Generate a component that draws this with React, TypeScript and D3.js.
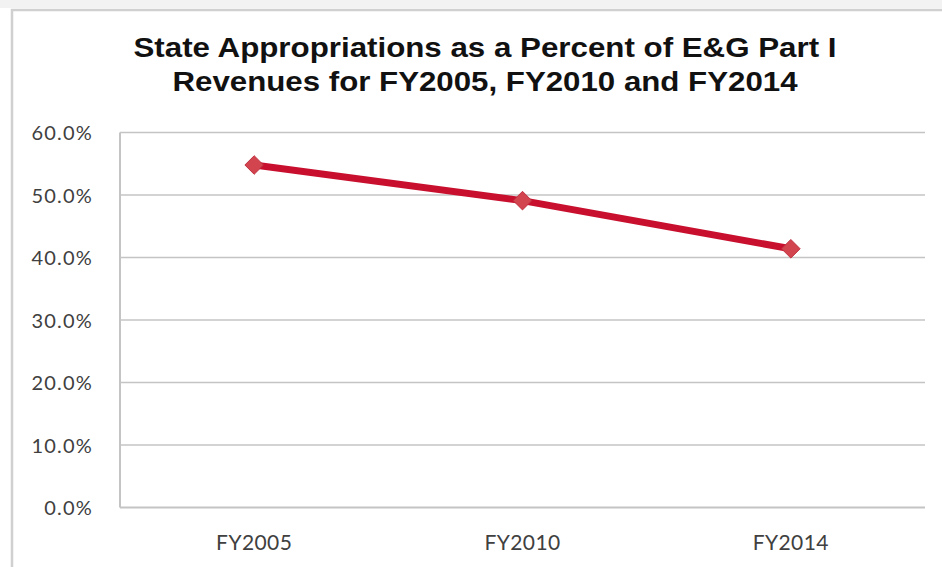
import React from "react";
import * as d3 from "d3";

const categories = ["FY2005", "FY2010", "FY2014"];
const values = [54.8, 49.1, 41.4];
const yTicks = [0, 10, 20, 30, 40, 50, 60];
const titleLines = [
  "State Appropriations as a Percent of E&G Part I",
  "Revenues for FY2005, FY2010 and FY2014",
];

const W = 942;
const H = 567;
const plot = { left: 120, right: 925, top: 132.5, bottom: 507.5 };

export default function App() {
  const x = d3
    .scalePoint<string>()
    .domain(categories)
    .range([plot.left, plot.right])
    .padding(0.5);
  const y = d3.scaleLinear().domain([0, 60]).range([plot.bottom, plot.top]);
  const line = d3
    .line<number>()
    .x((_, i) => x(categories[i]) as number)
    .y((d) => y(d));
  const diamond = d3.symbol().type(d3.symbolDiamond2).size(220)();

  const labelFont = "Lato, 'Open Sans', sans-serif";
  return (
    <svg
      width={W}
      height={H}
      style={{ position: "absolute", left: 0, top: 0, background: "#fff" }}
    >
      <rect x={0} y={0} width={W} height={H} fill="#fff" />
      <rect x={0} y={0} width={W} height={8} fill="#f2f2f2" />
      <rect
        x={12}
        y={10}
        width={W + 20}
        height={H + 20}
        fill="#fff"
        stroke="#d0d0d0"
        strokeWidth={2.5}
      />
      {titleLines.map((t, i) => (
        <text
          key={i}
          x={485}
          y={57 + i * 33.5}
          textAnchor="middle"
          fontFamily="'Liberation Sans', Arial, sans-serif"
          fontWeight="bold"
          fontSize={27}
          fill="#111"
          textLength={i === 0 ? 703 : 625}
          lengthAdjust="spacingAndGlyphs"
        >
          {t}
        </text>
      ))}
      {yTicks.map((t) => (
        <g key={t}>
          <line
            x1={plot.left}
            x2={plot.right}
            y1={y(t)}
            y2={y(t)}
            stroke="#c4c4c4"
            strokeWidth={t === 0 ? 2 : 1.6}
          />
          <text
            x={93}
            y={y(t)}
            dy="0.38em"
            textAnchor="end"
            fontFamily={labelFont}
            fontSize={20}
            letterSpacing={1.2}
            fill="#404040"
          >
            {t.toFixed(1) + "%"}
          </text>
        </g>
      ))}
      <line
        x1={plot.left}
        x2={plot.left}
        y1={plot.top}
        y2={plot.bottom}
        stroke="#c4c4c4"
        strokeWidth={2}
      />
      {categories.map((c) => (
        <text
          key={c}
          x={x(c)}
          y={550}
          textAnchor="middle"
          fontFamily={labelFont}
          fontSize={21}
          letterSpacing={0.4}
          fill="#404040"
        >
          {c}
        </text>
      ))}
      <path
        d={line(values) || ""}
        fill="none"
        stroke="#C8102E"
        strokeWidth={7}
        strokeLinejoin="round"
      />
      {values.map((v, i) => (
        <path
          key={i}
          d={diamond || ""}
          transform={`translate(${x(categories[i])},${y(v)})`}
          fill="#D2454F"
          stroke="#C03040"
          strokeWidth={1}
        />
      ))}
    </svg>
  );
}
